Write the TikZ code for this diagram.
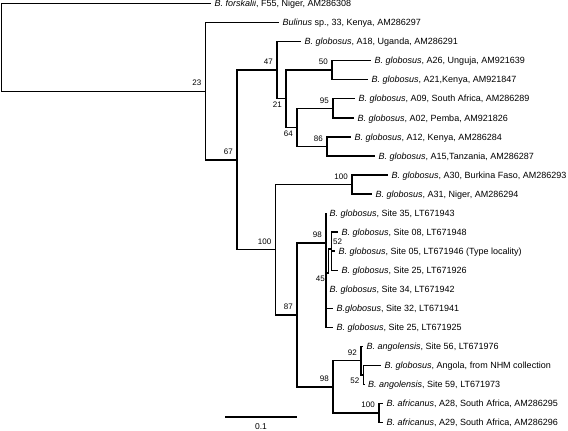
\documentclass[tikz,border=0pt]{standalone}
\usepackage{fontspec}
\setmainfont{Liberation Sans}
\newcommand\mkleaf[4]{\coordinate (#1) at (#2,#3);\node[lab] (#1t) at (#1) {#4};}
\begin{document}
\begin{tikzpicture}[x=1pt,y=-1pt,
  br/.style={line width=1.4pt},
  lab/.style={anchor=west, inner xsep=3.5pt, inner ysep=0pt, text height=6.4pt, text depth=0pt, font=\fontsize{9}{10}\selectfont},
  bs/.style={inner sep=0pt, font=\fontsize{8}{9}\selectfont},
  bsup/.style={bs, anchor=south east, xshift=-4pt, yshift=5pt},
  bsdn/.style={bs, anchor=north east, xshift=-4pt, yshift=-3pt}]
\useasboundingbox (0,0) rectangle (568,431);
% internal nodes
\coordinate (r) at (1.5,47.4);
\coordinate (n23) at (205.5,91.25);
\coordinate (n67) at (237,159.94);
\coordinate (n47) at (277,70.175);
\coordinate (n21) at (286,98.75);
\coordinate (n50) at (332,70.175);
\coordinate (n64) at (297,127.3);
\coordinate (n95) at (333,108.3);
\coordinate (n86) at (327,146.4);
\coordinate (n100b) at (275.5,249.7);
\coordinate (n100s) at (352,184.5);
\coordinate (n87) at (297,314.94);
\coordinate (n98a) at (326,243);
\coordinate (n45) at (328.5,273);
\coordinate (n52) at (331.5,249);
\coordinate (n98b) at (333,386.88);
\coordinate (n92) at (361,360.69);
\coordinate (n52b) at (363.5,374.975);
\coordinate (n100c) at (379,413.075);
% leaves
\mkleaf{forsk}{211}{3.5}{\textit{B. forskalii}, F55, Niger, AM286308}
\mkleaf{bul}{279}{22.55}{\textit{Bulinus} sp., 33, Kenya, AM286297}
\mkleaf{a18}{301}{41.6}{\textit{B. globosus}, A18, Uganda, AM286291}
\mkleaf{a26}{371}{60.65}{\textit{B. globosus}, A26, Unguja, AM921639}
\mkleaf{a21}{368}{79.7}{\textit{B. globosus}, A21,Kenya, AM921847}
\mkleaf{a09}{355}{98.75}{\textit{B. globosus}, A09, South Africa, AM286289}
\mkleaf{a02}{354}{117.8}{\textit{B. globosus}, A02, Pemba, AM921826}
\mkleaf{a12}{351}{136.85}{\textit{B. globosus}, A12, Kenya, AM286284}
\mkleaf{a15}{375}{155.9}{\textit{B. globosus}, A15,Tanzania, AM286287}
\mkleaf{a30}{388}{174.95}{\textit{B. globosus}, A30, Burkina Faso, AM286293}
\mkleaf{a31}{372}{194.0}{\textit{B. globosus}, A31, Niger, AM286294}
\mkleaf{s35}{326}{213.05}{\textit{B. globosus}, Site 35, LT671943}
\mkleaf{s08}{338}{232.1}{\textit{B. globosus}, Site 08, LT671948}
\mkleaf{s05}{335}{251.15}{\textit{B. globosus}, Site 05, LT671946 (Type locality)}
\mkleaf{s25a}{338}{270.2}{\textit{B. globosus}, Site 25, LT671926}
\mkleaf{s34}{326}{289.25}{\textit{B. globosus}, Site 34, LT671942}
\mkleaf{s32}{333}{308.3}{\textit{B.globosus}, Site 32, LT671941}
\mkleaf{s25b}{333}{327.35}{\textit{B. globosus}, Site 25, LT671925}
\mkleaf{s56}{363}{346.4}{\textit{B. angolensis}, Site 56, LT671976}
\mkleaf{ang}{381}{365.45}{\textit{B. globosus}, Angola, from NHM collection}
\mkleaf{s59}{364.5}{384.5}{\textit{B. angolensis}, Site 59, LT671973}
\mkleaf{a28}{383}{403.55}{\textit{B. africanus}, A28, South Africa, AM286295}
\mkleaf{a29}{383}{422.6}{\textit{B. africanus}, A29, South Africa, AM286296}
% branches
\draw[br] (r) |- (forsk);
\draw[br] (r) |- (n23);
\draw[br] (n23) |- (bul);
\draw[br] (n23) |- (n67);
\draw[br] (n67) |- (n47);
\draw[br] (n67) |- (n100b);
\draw[br] (n47) |- (a18);
\draw[br] (n47) |- (n21);
\draw[br] (n21) |- (n50);
\draw[br] (n21) |- (n64);
\draw[br] (n50) |- (a26);
\draw[br] (n50) |- (a21);
\draw[br] (n64) |- (n95);
\draw[br] (n64) |- (n86);
\draw[br] (n95) |- (a09);
\draw[br] (n95) |- (a02);
\draw[br] (n86) |- (a12);
\draw[br] (n86) |- (a15);
\draw[br] (n100b) |- (n100s);
\draw[br] (n100b) |- (n87);
\draw[br] (n100s) |- (a30);
\draw[br] (n100s) |- (a31);
\draw[br] (n87) |- (n98a);
\draw[br] (n87) |- (n98b);
\draw[br] (n98a) |- (s35);
\draw[br] (n98a) |- (n45);
\draw[br] (n98a) |- (s34);
\draw[br] (n98a) |- (s32);
\draw[br] (n98a) |- (s25b);
\draw[br] (n45) |- (n52);
\draw[br] (n52) |- (s08);
\draw[br] (n52) |- (s05);
\draw[br] (n52) |- (s25a);
\draw[br] (n98b) |- (n92);
\draw[br] (n98b) |- (n100c);
\draw[br] (n92) |- (s56);
\draw[br] (n92) |- (n52b);
\draw[br] (n52b) |- (ang);
\draw[br] (n52b) |- (s59);
\draw[br] (n100c) |- (a28);
\draw[br] (n100c) |- (a29);
% bootstrap values
\node[bsup] (b23) at (n23) {23};
\node[bsup] (b67) at (n67) {67};
\node[bsup] (b47) at (n47) {47};
\node[bsdn] (b21) at (n21) {21};
\node[bsup] (b50) at (n50) {50};
\node[bsup] (b95) at (n95) {95};
\node[bsdn] (b64) at (n64) {64};
\node[bsup] (b86) at (n86) {86};
\node[bsup] (b100s) at (n100s) {100};
\node[bsup] (b100b) at (n100b) {100};
\node[bsup] (b87) at (n87) {87};
\node[bsup] (b98a) at (n98a) {98};
\node[bs, anchor=north east] (b45) at (325,275.5) {45};
\node[bs] (b52) at (337.5,241.5) {52};
\node[bsup] (b98b) at (n98b) {98};
\node[bsup] (b92) at (n92) {92};
\node[bs, anchor=north east] (b52b) at (359.5,377.5) {52};
\node[bsup] (b100c) at (n100c) {100};
% scale bar
\coordinate (sb1) at (225,417);
\coordinate (sb2) at (297,417);
\draw[br] (sb1) -- (sb2);
\node[bs, font=\fontsize{8.5}{9}\selectfont] (sbl) at (261,427) {0.1};
\end{tikzpicture}
\end{document}
